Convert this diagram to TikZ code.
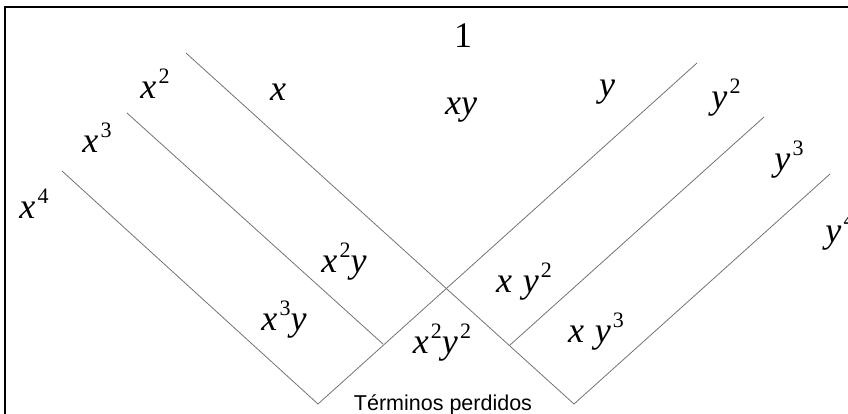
\documentclass[tikz,border=0pt]{standalone}
\usepackage{fontspec}
\setmainfont{Liberation Serif}
\newfontfamily\labelfont{Liberation Sans}
\newcommand{\pw}[2]{\textit{#1}\/\kern0.06em\raisebox{0.42em}{\fontsize{22}{22}\selectfont #2}}

\begin{document}
\begin{tikzpicture}[
    x=1pt, y=-1pt,
    term/.style={font=\fontsize{36}{40}\selectfont, inner sep=0pt},
    diag/.style={draw=black!55, line width=0.8pt},
    frame/.style={draw=black, line width=2pt}
]
\useasboundingbox (0,0) rectangle (848,414);
\clip (0,0) rectangle (848,414);
\draw[frame] (5,7) rectangle (880,450);

% Line ends
\coordinate (a0) at (186,53);
\coordinate (b0) at (127,113);
\coordinate (c0) at (62,171);
\coordinate (d0) at (697,63);
\coordinate (e0) at (764,117);
\coordinate (f0) at (830,174);
\coordinate (bd) at (383,344);
\coordinate (ea) at (510,345);
\coordinate (cd) at (318,404);
\coordinate (fa) at (574,404);

% Lines
\draw[diag] (a0) -- (fa);
\draw[diag] (b0) -- (bd);
\draw[diag] (c0) -- (cd);
\draw[diag] (d0) -- (cd);
\draw[diag] (e0) -- (ea);
\draw[diag] (f0) -- (fa);

% Terms
\node[term] (one) at (463,36) {1};
\node[term] (x1) at (278,92) {\textit{x}};
\node[term] (x2) at (155,84) {\pw{x}{2}};
\node[term] (x3) at (97,138) {\pw{x}{3}};
\node[term] (x4) at (34,204) {\pw{x}{4}};
\node[term] (xy) at (461,110) {\textit{xy}};
\node[term] (y1) at (607,92) {\textit{y}};
\node[term] (y2) at (726,98) {\pw{y}{2}};
\node[term] (y3) at (789,160) {\pw{y}{3}};
\node[term] (y4) at (840,232) {\pw{y}{4}};
\node[term] (x2y) at (344,262) {\pw{x}{2}\textit{y}};
\node[term] (x3y) at (284,320) {\pw{x}{3}\textit{y}};
\node[term] (xy2) at (524,282) {\textit{x}\hspace{0.3em}\pw{y}{2}};
\node[term] (x2y2) at (442,343) {\pw{x}{2}\pw{y}{2}};
\node[term] (xy3) at (596,332) {\textit{x}\hspace{0.3em}\pw{y}{3}};

% Caption
\node[font=\labelfont\fontsize{21.5}{24}\selectfont, inner sep=0pt] (lost) at (443,405) {Términos perdidos};
\end{tikzpicture}
\end{document}
